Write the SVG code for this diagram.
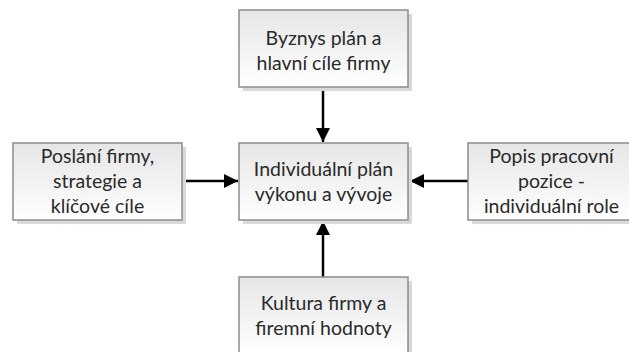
<svg xmlns="http://www.w3.org/2000/svg" width="629" height="352" viewBox="0 0 629 352">
<defs>
<linearGradient id="g" x1="0" y1="0" x2="0" y2="1">
<stop offset="0" stop-color="#e6e6e6"/>
<stop offset="1" stop-color="#ffffff"/>
</linearGradient>
<marker id="ah" viewBox="0 0 10 10" refX="10" refY="5" markerWidth="6" markerHeight="5.6" orient="auto" markerUnits="strokeWidth">
<path d="M0,0 L10,5 L0,10 Z" fill="#000"/>
</marker>
<style>
.sh{fill:#d9d9d9}
.bx{fill:url(#g);stroke:#8c8c8c;stroke-width:1.5}
.t{font-family:Lato,"Open Sans","Liberation Sans",sans-serif;font-size:19.5px;fill:#2a2a2a;text-anchor:middle}
.c{stroke:#000;stroke-width:2.5;fill:none;marker-end:url(#ah)}
</style>
</defs>
<rect width="629" height="352" fill="#fff"/>
<g id="connectors">
<line class="c" x1="323" y1="87" x2="323" y2="142"/>
<line class="c" x1="182" y1="181" x2="238" y2="181"/>
<line class="c" x1="468" y1="181" x2="410" y2="181"/>
<line class="c" x1="323" y1="277" x2="323" y2="221"/>
</g>
<g id="top">
<rect class="sh" x="243" y="14" width="169" height="77"/>
<rect class="bx" x="239" y="10" width="169" height="77"/>
<text class="t" x="323.5" y="45">Byznys plán a</text>
<text class="t" x="323.5" y="70">hlavní cíle firmy</text>
</g>
<g id="left">
<rect class="sh" x="17" y="147" width="169" height="77"/>
<rect class="bx" x="13" y="143" width="169" height="77"/>
<text class="t" x="97.5" y="163">Poslání firmy,</text>
<text class="t" x="97.5" y="188">strategie a</text>
<text class="t" x="97.5" y="213">klíčové cíle</text>
</g>
<g id="center">
<rect class="sh" x="243" y="147" width="169" height="77"/>
<rect class="bx" x="239" y="143" width="169" height="77"/>
<text class="t" x="323.5" y="176">Individuální plán</text>
<text class="t" x="323.5" y="201">výkonu a vývoje</text>
</g>
<g id="right">
<rect class="sh" x="472" y="147" width="169" height="77"/>
<rect class="bx" x="468" y="143" width="169" height="77"/>
<text class="t" x="551.5" y="163">Popis pracovní</text>
<text class="t" x="551.5" y="188">pozice -</text>
<text class="t" x="551.5" y="213">individuální role</text>
</g>
<g id="bottom">
<rect class="sh" x="243" y="281" width="169" height="77"/>
<rect class="bx" x="239" y="277" width="169" height="77"/>
<text class="t" x="323.5" y="310">Kultura firmy a</text>
<text class="t" x="323.5" y="335">firemní hodnoty</text>
</g>
</svg>
